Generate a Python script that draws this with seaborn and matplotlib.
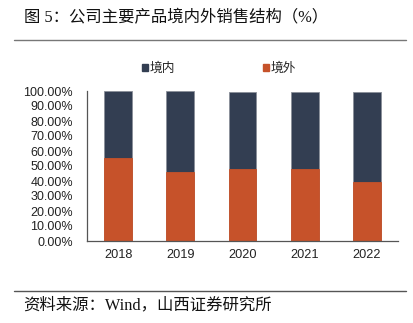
import matplotlib
matplotlib.use("Agg")
import matplotlib.pyplot as plt
import seaborn as sns
import pandas as pd
from matplotlib.lines import Line2D
from matplotlib.patches import Patch

years = ["2018", "2019", "2020", "2021", "2022"]
domestic = [44.5, 54.2, 51.5, 51.5, 59.8]   # 境内 (%)
overseas = [55.5, 45.8, 47.8, 47.8, 39.5]   # 境外 (%)
yticks = [0, 10, 20, 30, 40, 50, 60, 70, 80, 90, 100]

dark = "#333E52"
orange = "#C6522A"

sns.set_theme(style="white")
plt.rcParams["font.family"] = ["Liberation Sans", "Noto Sans CJK SC", "DejaVu Sans"]

df = pd.DataFrame({"year": years, "domestic": domestic, "overseas": overseas})
df["total"] = df["domestic"] + df["overseas"]

fig = plt.figure(figsize=(4.14, 3.23), dpi=100)
ax = fig.add_axes([87 / 414, 1 - 241 / 323, (398 - 87) / 414, 150 / 323])

sns.barplot(data=df, x="year", y="total", color=dark, width=0.45, ax=ax,
            edgecolor="#8a8f99", linewidth=0.6, saturation=1)
sns.barplot(data=df, x="year", y="overseas", color=orange, width=0.45, ax=ax,
            edgecolor=orange, linewidth=0.6, saturation=1)

ax.set_xlim(-0.5, 4.5)
ax.set_ylim(0, 100)
ax.set_yticks(yticks)
ax.set_yticklabels([f"{v:.2f}%" for v in yticks])
ax.set_xlabel("")
ax.set_ylabel("")
ax.tick_params(axis="y", which="major", direction="in", length=3.5, width=0.8,
               color="#555555", labelsize=9, labelcolor="#222222", pad=10)
ax.tick_params(axis="x", which="major", length=0, labelsize=9.2,
               labelcolor="#222222", pad=6)
ax.set_xticks([0.5, 1.5, 2.5, 3.5], minor=True)
ax.tick_params(axis="x", which="minor", direction="in", length=3.5, width=0.8,
               color="#555555")
for s in ["top", "right"]:
    ax.spines[s].set_visible(False)
for s in ["left", "bottom"]:
    ax.spines[s].set_color("#555555")
    ax.spines[s].set_linewidth(0.9)
ax.grid(False)

handles = [Patch(facecolor=dark, edgecolor=dark), Patch(facecolor=orange, edgecolor=orange)]
fig.legend(handles, ["境内", "境外"], loc="center left",
           bbox_to_anchor=(142 / 414, 1 - 69 / 323), ncol=2, frameon=False,
           handlelength=0.45, handleheight=0.45, handletextpad=0.15,
           columnspacing=6.9, fontsize=9.2, borderaxespad=0, borderpad=0)

fam = ["Liberation Serif", "Noto Sans CJK SC", "DejaVu Sans"]
fig.text(24 / 414, 1 - 18 / 323, "图 5：公司主要产品境内外销售结构（%）",
         fontsize=11.8, family=fam, va="center", ha="left", color="#111111")
fig.add_artist(Line2D([14 / 414, 406 / 414], [1 - 39.5 / 323] * 2,
                      color="#777777", lw=1.0))
fig.add_artist(Line2D([14 / 414, 406 / 414], [1 - 291 / 323] * 2,
                      color="#555555", lw=1.0))
fig.text(23 / 414, 1 - 305 / 323, "资料来源：Wind，山西证券研究所",
         fontsize=11.8, family=fam, va="center", ha="left", color="#111111")

fig.savefig("out.png", dpi=100)
